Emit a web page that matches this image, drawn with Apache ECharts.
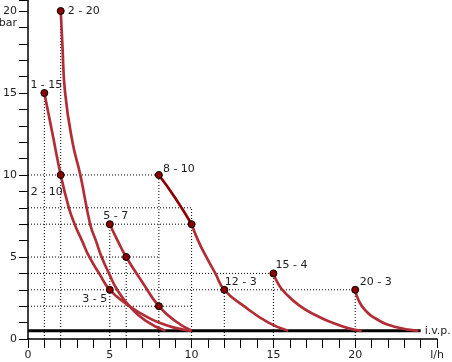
<!DOCTYPE html>
<html>
<head>
<meta charset="utf-8">
<script src="https://cdn.jsdelivr.net/npm/echarts@6/dist/echarts.min.js"></script>
<style>html,body{margin:0;padding:0;background:#fff;}#c{width:452px;height:362px;}</style>
</head>
<body>
<div id="c"></div>
<script>
// ---- data ----
const xTickLabels = {0:'0', 5:'5', 10:'10', 15:'15', 20:'20', 25:'l/h'};
const yTickLabels = {0:'0', 5:'5', 10:'10', 15:'15', 20:'20'};
const yUnit = 'bar';
const ivpLabel = 'i.v.p.';
const ivpLevel = 0.5;
const ivpEnd = 24;

const curveA = [[1,15],[1.5,12.5],[2,10],[2.5,8],[2.85,7],[3.3,6],[3.75,5],[4.35,4],[5,3],[6.2,2],[7,1.5],[8,1.0],[9,0.68],[10,0.5]];
const curveB = [[2,20],[2.1,18],[2.27,15],[2.72,12],[3.2,10],[3.8,7],[4.15,6],[4.5,5],[4.95,4],[5.45,3],[6.2,2],[7.2,1.1],[8.4,0.5]];
const curveC = [[5,7],[5.5,5.95],[6,5],[7,3.45],[8,2],[9,1.1],[10,0.5]];
const curveD1 = [[8,10],[9,8.6],[10,7]];
const curveD2 = [[10,7],[10.4,6],[10.9,5],[11.45,4],[12,3],[13.2,2],[14.7,1],[15.9,0.5]];
const curveE = [[15,4],[15.33,3.3],[15.73,2.8],[16.55,2.07],[17.56,1.46],[18.58,1.0],[19.6,0.65],[20.4,0.5]];
const curveF = [[20,3],[20.2,2.38],[20.6,1.77],[21.4,1.16],[22.4,0.75],[23.86,0.5]];

const pointsX = [2, 1, 2, 5, 8, 10, 6, 5, 8, 12, 15, 20];
const pointsY = [20, 15, 10, 7, 10, 7, 5, 3, 2, 3, 4, 3];
const pointLabels = ['2 - 20', '1 - 15', '2 - 10', '5 - 7', '8 - 10', '', '', '3 - 5', '', '12 - 3', '15 - 4', '20 - 3'];

// guide lines: horizontal [y, x0, x1], vertical [x, y0, y1]
const guideH = [[10,0,8],[8,0,10],[7,0,10],[5,0,8],[4,0,15],[3,0,20],[2,0,10]];
const guideV = [[1,0,15],[2,0,20],[5,0,7],[6,0,5],[8,0,10],[10,0,8],[12,0,3],[15,0,4],[20,0,3]];

// ---- styling ----
const FONT = '"DejaVu Sans", Verdana, sans-serif';
const TXT = '#222';
const RED = '#b22e36';
const DARK = '#8b0000';
const labelOffsets = {
  '2 - 20': [23, 0], '1 - 15': [2, -8], '2 - 10': [-14, 17], '5 - 7': [6, -8],
  '8 - 10': [20, -5.5], '3 - 5': [-15, 9], '12 - 3': [16.5, -7.5], '15 - 4': [18, -8], '20 - 3': [20.5, -8]
};

const series = [];
const guideData = [];
guideH.forEach(g => { guideData.push([g[1], g[0]], [g[2], g[0]], '-'); });
guideV.forEach(g => { guideData.push([g[0], g[1]], [g[0], g[2]], '-'); });
series.push({
  type: 'line', data: guideData, connectNulls: false, symbol: 'none', silent: true, z: 1,
  lineStyle: { color: '#000', width: 1, type: [1, 2] }, animation: false
});
series.push({
  type: 'line', data: [[0, ivpLevel], [ivpEnd, ivpLevel]], symbol: 'none', silent: true, z: 2,
  lineStyle: { color: '#000', width: 3 }, animation: false,
  endLabel: { show: true, formatter: ivpLabel, distance: 4, color: TXT, fontFamily: FONT, fontSize: 11 }
});
[curveA, curveB, curveC, curveD2, curveE, curveF].forEach(c => {
  series.push({
    type: 'line', data: c, symbol: 'none', smooth: 0.5, silent: true, z: 3,
    lineStyle: { color: RED, width: 2.7 }, animation: false
  });
});
series.push({
  type: 'line', data: curveD1, symbol: 'none', smooth: 0.5, silent: true, z: 3,
  lineStyle: { color: DARK, width: 2.7 }, animation: false
});
series.push({
  type: 'scatter', z: 5, animation: false, silent: true,
  symbol: 'circle', symbolSize: 7,
  itemStyle: { color: DARK, borderColor: '#000', borderWidth: 1, opacity: 1 },
  data: pointsX.map((x, i) => {
    const t = pointLabels[i];
    return {
      value: [x, pointsY[i]],
      label: {
        show: t !== '', formatter: t, position: 'inside',
        offset: labelOffsets[t] || [0, 0],
        color: TXT, fontFamily: FONT, fontSize: 11
      }
    };
  })
});

const chart = echarts.init(document.getElementById('c'), null, { renderer: 'canvas' });
chart.setOption({
  backgroundColor: '#fff',
  animation: false,
  grid: { left: 27, right: 15, top: 0, bottom: 23 },
  xAxis: {
    type: 'value', min: 0, max: 25, interval: 1,
    axisLine: { show: true, onZero: false, lineStyle: { color: '#000', width: 1.5 } },
    axisTick: { show: true, length: 9, lineStyle: { color: '#000' } },
    axisLabel: { formatter: v => (xTickLabels[v] !== undefined ? xTickLabels[v] : ''), margin: 11, color: TXT, fontFamily: FONT, fontSize: 11 },
    splitLine: { show: false }
  },
  yAxis: {
    type: 'value', min: 0, max: 20.67, interval: 1,
    axisLine: { show: true, onZero: false, lineStyle: { color: '#000', width: 1.5 } },
    axisTick: { show: true, length: 9, lineStyle: { color: '#000' } },
    axisLabel: { formatter: v => (yTickLabels[v] !== undefined ? yTickLabels[v] : ''), margin: 11, color: TXT, fontFamily: FONT, fontSize: 11 },
    splitLine: { show: false }
  },
  graphic: [{
    type: 'text', x: 17, y: 23.5, silent: true,
    style: { text: yUnit, font: '11px ' + FONT, fill: TXT, align: 'right', verticalAlign: 'middle' }
  }],
  series: series
});
</script>
</body>
</html>
